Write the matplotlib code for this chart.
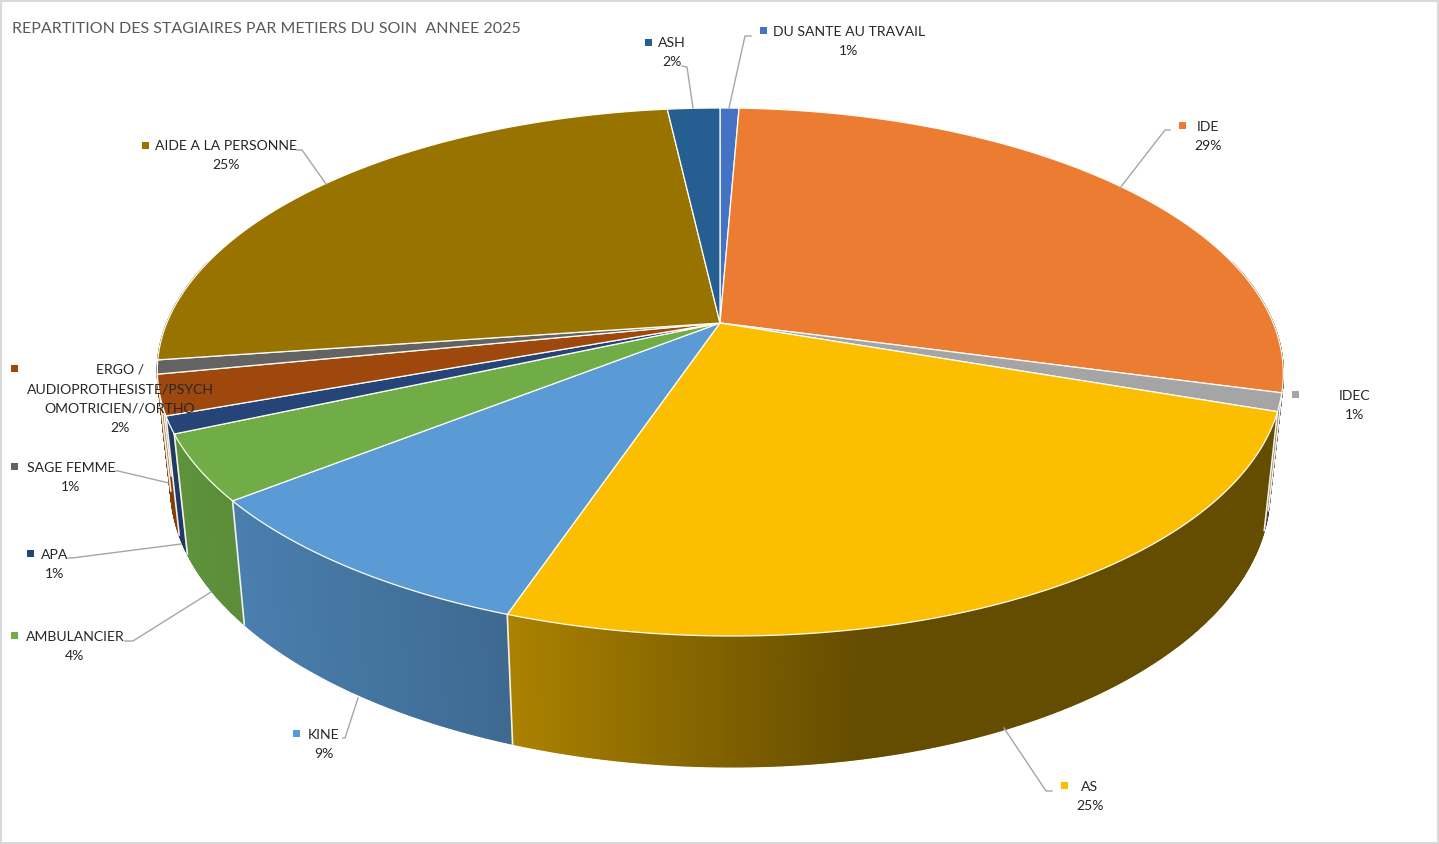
import numpy as np
import matplotlib
matplotlib.use('Agg')
import matplotlib.pyplot as plt
from matplotlib.colors import to_rgb
from matplotlib.patches import Polygon, Rectangle

plt.rcParams['font.family'] = ['Lato', 'DejaVu Sans']

TITLE = 'REPARTITION DES STAGIAIRES PAR METIERS DU SOIN  ANNEE 2025'
METIERS = ['DU SANTE AU TRAVAIL', 'IDE', 'IDEC', 'AS', 'KINE', 'AMBULANCIER', 'APA',
           'ERGO /\nAUDIOPROTHESISTE/PSYCH\nOMOTRICIEN//ORTHO', 'SAGE FEMME',
           'AIDE A LA PERSONNE', 'ASH']
PARTS = [0.65, 28.55, 1.1, 25.1, 9.0, 4.0, 1.05, 2.45, 0.85, 25.45, 1.8]
COLORS = ['#4472C4', '#EB7C31', '#A5A5A5', '#FBBE00', '#5B9BD5', '#70AD47', '#264478',
          '#9E480E', '#636363', '#997300', '#255E91']

# projective view of the disc: apex, scale and tilt of the top and bottom faces
CX, CY = 720, 323
TILT = -0.1856
TOP_X, TOP_Y = 553.2, 254.9
BOT_X, BOT_Y, BOT_CY = 540.0, 268.6, 437.0
# the near side of the disc leans slightly to the right
LEAN = 8.0

# key x, key y, text x, first line y, leader path
LAYOUT = [
    (763, 30, 849, 31, [(751, 36), (745, 36), (729, 108)]),
    (1182, 125, 1208, 126, [(1170, 130), (1165, 130), (1120, 188)]),
    (1295, 394, 1355, 395, None),
    (1064, 785, 1090, 786, [(1052, 791), (1046, 791), (1004, 728)]),
    (296, 733, 324, 734, [(343, 738), (345, 738), (358, 698)]),
    (14, 635, 75, 636, [(125, 641), (133, 641), (211, 592)]),
    (30, 553, 55, 554, [(68, 558), (72, 558), (181, 544)]),
    (14, 368, 120, 369, None),
    (14, 466, 71, 467, [(115, 471), (118, 471), (169, 483)]),
    (145, 145, 226, 145, [(297, 150), (302, 150), (326, 184)]),
    (648, 42, 672, 42, [(682, 66), (687, 67), (693, 108)]),
]


def project(theta, sx, sy, cy):
    u, v = np.sin(theta), -np.cos(theta)
    w = 1 + TILT * v
    lean = LEAN * np.maximum(v / w, 0) ** 2
    return CX + sx * u / w + lean, cy + sy * v / w


def top_face(theta):
    return project(theta, TOP_X, TOP_Y, CY)


def bottom_face(theta):
    return project(theta, BOT_X, BOT_Y, BOT_CY)


def wall_shade(x):
    # side light falls off from left to right across the rim
    return np.interp(x, [170, 512, 860, 1300], [0.85, 0.68, 0.40, 0.40])


fig = plt.figure(figsize=(14.39, 8.44), dpi=100)
ax = fig.add_axes([0, 0, 1, 1])
ax.set_xlim(0, 1439)
ax.set_ylim(844, 0)
ax.axis('off')
ax.add_patch(Rectangle((1, 1), 1437, 842, fc='white', ec='#D9D9D9', lw=1.5, zorder=0))

edges = 2 * np.pi * np.cumsum([0] + PARTS) / sum(PARTS)

# rim of the disc, back strips first
strips = []
for i, color in enumerate(COLORS):
    n = max(int((edges[i + 1] - edges[i]) / 0.004), 2)
    ts = np.linspace(edges[i], edges[i + 1], n + 1)
    for t0, t1 in zip(ts[:-1], ts[1:]):
        if -np.cos((t0 + t1) / 2) > -0.25:
            strips.append((t0, t1, color))
strips.sort(key=lambda s: -np.cos((s[0] + s[1]) / 2))

for t0, t1, color in strips:
    x0, y0 = top_face(t0)
    x1, y1 = top_face(t1)
    x2, y2 = bottom_face(t1)
    x3, y3 = bottom_face(t0)
    shade = wall_shade((x0 + x1 + x2 + x3) / 4)
    rgb = tuple(c * shade for c in to_rgb(color))
    ax.add_patch(Polygon([(x0, y0), (x1, y1), (x2, y2), (x3, y3)], fc=rgb, ec=rgb,
                         lw=1.0, zorder=2))

# separators on the rim between visible slices
for t in edges[1:-1]:
    if -np.cos(t) > 0.0:
        xa, ya = top_face(t)
        xb, yb = bottom_face(t)
        ax.plot([xa, xb], [ya, yb], color='#F4F1E6', lw=1.2, zorder=3)

# top face
for i, color in enumerate(COLORS):
    ts = np.linspace(edges[i], edges[i + 1], 200)
    xs, ys = top_face(ts)
    pts = [(CX, CY)] + list(zip(xs, ys))
    ax.add_patch(Polygon(pts, fc=color, ec='#FFFDF5', lw=0.9, joinstyle='round', zorder=4))

ax.text(12, 29, TITLE, fontsize=11.55, color='#595959', va='center', ha='left', zorder=6)

for name, part, color, place in zip(METIERS, PARTS, COLORS, LAYOUT):
    kx, ky, tx, ty, leader = place
    ax.add_patch(Rectangle((kx - 3.5, ky - 3.5), 7, 7, fc=color, ec='none', zorder=6))
    lines = name.split('\n') + [f'{part:.0f}%']
    for j, line in enumerate(lines):
        ax.text(tx, ty + 1 + j * 19.4, line, fontsize=10.05, color='#262626', ha='center',
                va='center', zorder=7)
    if leader is not None:
        ax.plot(*zip(*leader), color='#A6A6A6', lw=1.0, zorder=5)

fig.savefig('out.png', dpi=100, facecolor='white')
plt.close(fig)
